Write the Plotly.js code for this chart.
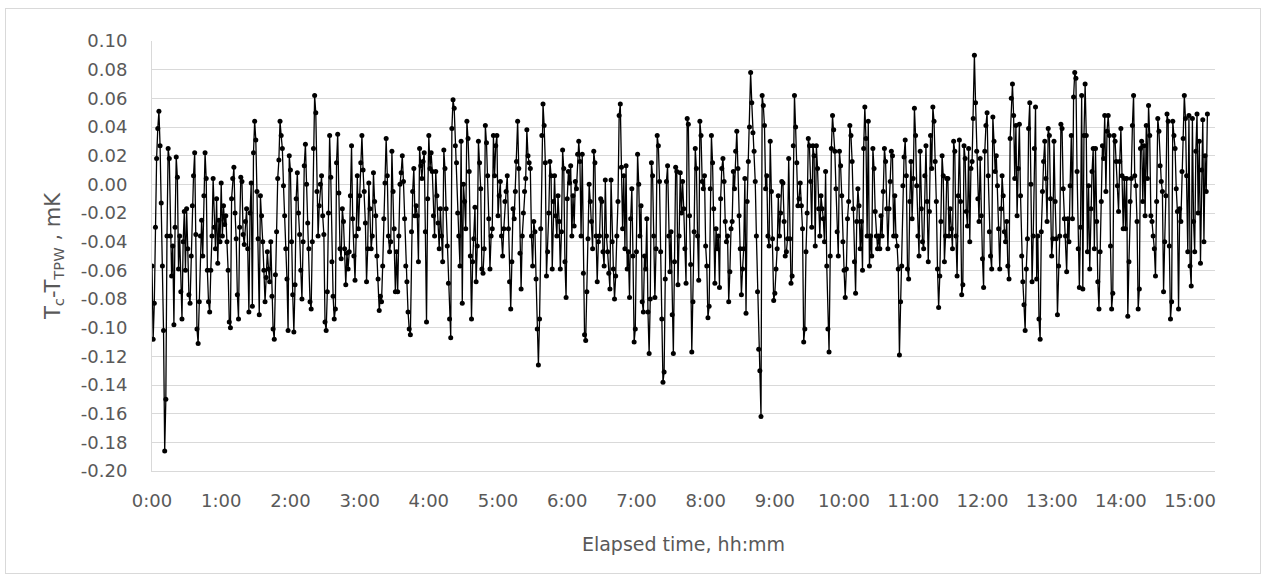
<!DOCTYPE html>
<html>
<head>
<meta charset="utf-8">
<script src="https://cdn.plot.ly/plotly-3.0.1.min.js"></script>
<style>
  html, body { margin: 0; padding: 0; background: #ffffff; }
  #frame { position: absolute; left: 5px; top: 8px; width: 1256px; height: 566px; border: 1px solid #d9d9d9; box-sizing: border-box; }
  #chart { position: absolute; left: 0; top: 0; width: 1269px; height: 581px; }
</style>
</head>
<body>
<div id="frame"></div>
<div id="chart"></div>
<script>
// Readings of Tc - T_TPW, in micro-kelvin (1e-3 mK), one reading per minute, grouped by hour
const hour00 = [-57,-108,-83,-30,18,39,51,27,-13,-57,-102,-186,-150,-36,25,18,-36,-64,-43,-98,-30,19,5,-59,-36,-75,-94,-40,-19,-60,-17,-45,-77,-83,-50,-15,6,22,-35,-101,-111,-82,-36,-25,-50,-8,22,4,-60,-82,-89,-60,-36,4,-30,-45,-10,-55,-25,-40];
const hour01 = [1,-36,-15,-28,-22,-40,-60,-96,-100,-10,4,12,-20,-38,-77,-94,-30,5,2,-35,-42,-26,-17,-45,-89,-20,1,-85,22,44,31,-5,-38,-91,-8,-22,-40,-60,-82,-65,-47,-59,-68,-40,-78,-101,-108,-63,-33,4,17,44,34,25,-1,-22,-45,-66,-102,20];
const hour02 = [10,-40,-77,-103,-70,-10,8,-20,-35,-60,-80,-40,13,28,0,-27,-45,-82,-87,-40,25,62,50,-5,-36,-15,0,6,-22,-35,-96,-102,-75,-20,34,5,-54,-78,-94,-87,15,35,-6,-45,-52,-17,-26,-45,-70,-48,-59,-47,-8,27,-24,-50,-67,-36,6,-31];
const hour03 = [-8,15,34,10,-5,-27,-68,-45,1,-17,-45,-36,8,-12,-22,-50,-66,-88,-78,-82,-57,-24,1,32,6,-36,-47,-40,23,-5,-31,-75,-47,-75,-36,0,8,20,2,-24,-57,-68,-89,-101,-105,-33,-5,11,-22,-15,-22,-54,25,13,4,16,22,-33,-96,-10];
const hour04 = [34,11,22,9,-22,-36,9,-8,-27,-45,-17,-36,-54,24,11,-17,-43,-69,-94,-107,39,59,53,27,15,-20,-36,-57,30,-83,0,-12,-31,44,32,9,-50,-94,-54,-38,-16,-68,-43,30,15,-3,-59,-62,-45,41,29,6,-24,-59,-36,-31,34,6,27,34];
const hour05 = [-22,-8,2,-36,-50,-31,-12,-5,6,-31,-68,-87,-54,-17,-24,-5,16,44,11,-48,-73,-36,-20,-5,4,38,20,15,11,-36,-57,-26,-33,-66,-101,-126,-94,-31,34,56,41,15,-64,-47,-20,16,6,-59,-12,6,-22,-36,-8,-26,-59,-33,24,11,-54,-79];
const hour06 = [-10,9,1,13,-36,-8,-29,2,-3,21,30,16,-36,21,-62,-105,-109,-75,-38,0,-12,-26,-45,23,15,-36,-68,-40,-36,-10,-12,-47,-57,3,-36,-47,-62,-73,3,-40,-59,-80,-64,-36,-12,48,56,12,-31,6,-45,13,-59,-47,-79,-24,-3,-50,-110,-101];
const hour07 = [-47,21,0,-36,-15,-82,-89,-50,-59,-24,-89,-118,-80,15,6,-36,-79,-45,34,27,2,-47,-94,-138,-131,-66,2,13,-36,-61,-33,-91,-118,-54,12,9,-70,-36,8,-20,2,-17,-45,-69,46,42,-22,-56,-117,-82,-33,25,11,-36,-67,44,34,2,-3,6];
const hour08 = [-43,-57,-93,-85,-3,34,15,-17,-69,-31,-45,-36,-72,-10,11,18,2,-26,-40,-36,-82,-61,-31,-26,9,-3,23,37,11,-22,-45,-77,-59,-45,4,-90,-12,16,40,78,57,36,23,2,-36,-75,-115,-130,-162,62,55,41,-3,6,-36,-43,30,-5,-38,-81];
const hour09 = [-76,-59,-45,-8,-36,-20,2,1,-26,-50,-47,-38,18,-38,-69,-64,27,62,40,15,-15,-10,1,-15,-31,-110,-101,-47,-20,32,27,2,-30,27,20,-43,27,11,-17,-36,-8,-17,-24,-40,9,-57,-101,-117,-50,25,48,38,23,-3,-33,-50,23,13,-8,-40];
const hour10 = [-60,-79,-59,-24,-12,41,34,16,-17,-54,-76,-26,-3,-15,-45,-26,-60,25,54,32,-36,44,-57,-36,-50,25,11,-19,-36,-45,-36,-45,-22,-36,-5,25,16,-17,-45,-17,2,23,20,-36,-8,-36,-43,-59,-119,-82,-57,-1,19,31,6,-59,-66,-12,16,-24];
const hour11 = [4,53,34,-1,-36,-50,23,-17,-40,-45,6,27,-12,-54,-19,34,11,54,44,16,-12,-59,-86,-64,-26,20,6,-54,-36,4,4,-36,-17,-31,-45,30,23,-36,-64,-8,31,-12,-77,-70,27,18,-19,-29,25,-40,11,16,46,90,57,23,-10,-26,18,-22];
const hour12 = [-52,-72,23,41,50,6,-33,-50,-59,47,30,9,20,-1,-31,-59,-17,6,-8,-33,-40,-26,-57,-66,32,60,70,48,4,41,-22,11,42,-8,-50,-68,-84,-102,-59,-38,39,57,0,-68,-36,25,54,-66,-36,-94,-108,-33,-5,16,30,4,-26,39,34,-10];
const hour13 = [-50,-38,30,-12,-38,-91,-57,-36,42,39,-3,-24,-36,-61,-24,-40,-1,34,-24,61,78,74,9,-45,-72,-30,62,-73,34,70,34,-47,-1,-59,-17,9,25,-45,25,-26,-68,-87,-47,-12,27,18,48,-5,37,48,34,-43,-87,-76,34,30,16,-1,-19,16];
const hour14 = [39,6,-31,4,-31,4,-92,-54,-12,4,41,62,6,-1,-26,-87,-73,25,30,-12,27,-22,41,4,55,34,-22,-26,-36,-45,-64,-12,46,37,13,2,-5,-75,-40,-8,49,44,-43,-94,-82,44,34,25,-3,-19,-87,-17,-26,9,32,62,46,6,-47,48];
const hour15 = [-57,-71,46,-26,-47,23,49,-20,30,-55,10,45,-40,20,-5,49];

const hours = [hour00,hour01,hour02,hour03,hour04,hour05,hour06,hour07,hour08,hour09,hour10,hour11,hour12,hour13,hour14,hour15];
const sampleMinutes = 1;

const tickHours = [0,1,2,3,4,5,6,7,8,9,10,11,12,13,14,15];
const tickHourLabels = ["0:00","1:00","2:00","3:00","4:00","5:00","6:00","7:00","8:00","9:00","10:00","11:00","12:00","13:00","14:00","15:00"];
const yTickValues = [0.10,0.08,0.06,0.04,0.02,0.00,-0.02,-0.04,-0.06,-0.08,-0.10,-0.12,-0.14,-0.16,-0.18,-0.20];
const yTickLabels = ["0.10","0.08","0.06","0.04","0.02","0.00","-0.02","-0.04","-0.06","-0.08","-0.10","-0.12","-0.14","-0.16","-0.18","-0.20"];

const yValues = [].concat(...hours).map(v => v / 1000);   // mK
const xValues = yValues.map((_, i) => i * sampleMinutes / 60); // elapsed hours

const font = "DejaVu Sans, sans-serif";
const trace = {
  x: xValues, y: yValues, type: "scatter", mode: "lines+markers",
  line: { color: "#000000", width: 1.3 },
  marker: { color: "#000000", size: 5, symbol: "circle" },
  hoverinfo: "skip"
};
const layout = {
  width: 1269, height: 581,
  margin: { l: 152, r: 54, t: 41, b: 110, pad: 0 },
  paper_bgcolor: "rgba(0,0,0,0)", plot_bgcolor: "#ffffff",
  showlegend: false,
  font: { family: font, color: "#595959", size: 18 },
  xaxis: {
    range: [0, 15.36], tickvals: tickHours, ticktext: tickHourLabels,
    showgrid: false, zeroline: false, showline: true, linecolor: "#d9d9d9", linewidth: 1,
    ticks: "outside", ticklen: 13, tickcolor: "rgba(0,0,0,0)",
    tickfont: { family: font, size: 18, color: "#595959" },
    title: { text: "Elapsed time, hh:mm", font: { family: font, size: 19, color: "#595959" }, standoff: 28 }
  },
  yaxis: {
    range: [-0.20, 0.10], tickvals: yTickValues, ticktext: yTickLabels,
    showgrid: true, gridcolor: "#d9d9d9", gridwidth: 1, zeroline: false,
    showline: true, linecolor: "#d9d9d9", linewidth: 1,
    ticks: "outside", ticklen: 20, tickcolor: "rgba(0,0,0,0)",
    tickfont: { family: font, size: 18, color: "#595959" },
    title: { text: "T<sub>c</sub>-T<sub>TPW</sub> , mK", font: { family: font, size: 21, color: "#595959" }, standoff: 14 }
  }
};
Plotly.newPlot("chart", [trace], layout, { staticPlot: true, displayModeBar: false });
</script>
</body>
</html>
